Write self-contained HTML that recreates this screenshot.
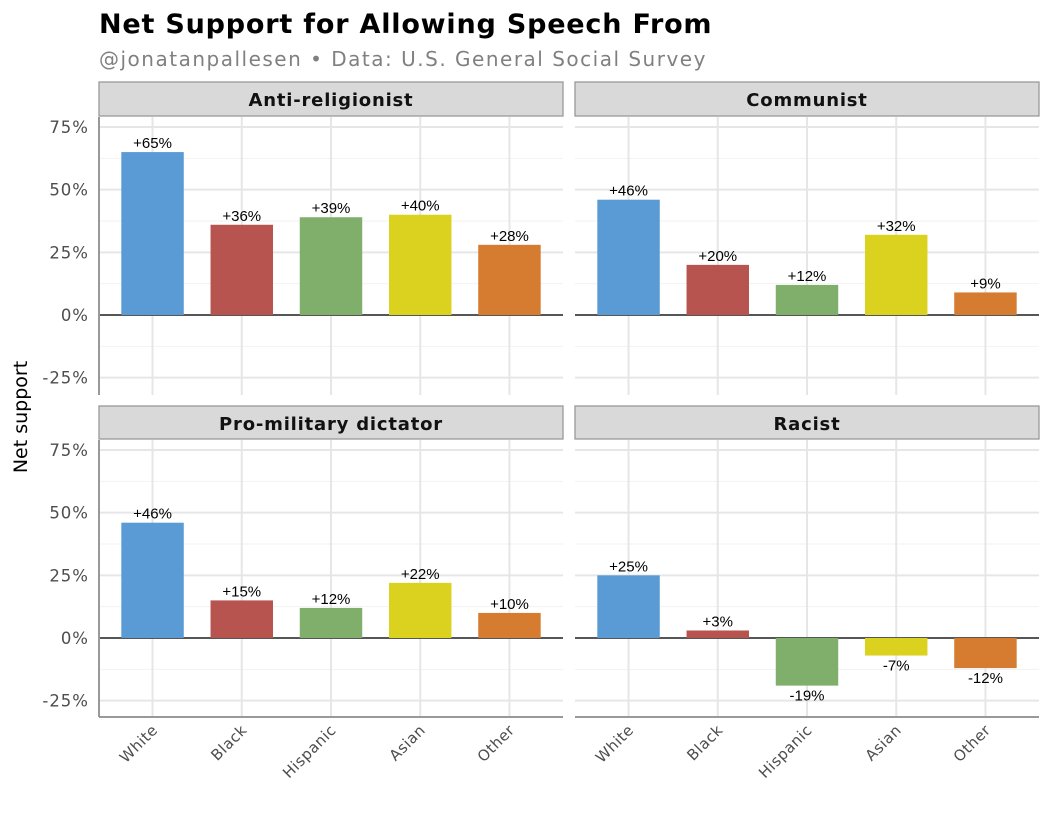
<!DOCTYPE html>
<html><head><meta charset="utf-8"><style>
body{margin:0;background:#fff;}
svg{display:block;font-family:"DejaVu Sans","Liberation Sans",sans-serif;}
</style></head><body>
<svg id="chart" width="1050" height="825" viewBox="0 0 1050 825" xmlns="http://www.w3.org/2000/svg">
<text x="99" y="33" font-size="27" font-weight="bold" fill="#000" letter-spacing="0.8">Net Support for Allowing Speech From</text>
<text x="99" y="66" font-size="20" fill="#808080" letter-spacing="1.5">@jonatanpallesen • Data: U.S. General Social Survey</text>
<text transform="translate(27,417) rotate(-90)" text-anchor="middle" font-size="19" fill="#000">Net support</text>
<g id="panels"></g>
</svg>
<script>
const categories = ["White","Black","Hispanic","Asian","Other"];
const panelTitles = ["Anti-religionist","Communist","Pro-military dictator","Racist"];
const antiReligionist = [65,36,39,40,28];
const communist = [46,20,12,32,9];
const proMilitary = [46,15,12,22,10];
const racist = [25,3,-19,-7,-12];
const yTicks = [75,50,25,0,-25];
const yTickLabels = ["75%","50%","25%","0%","-25%"];
const colors = ["#5b9bd5","#b85450","#7faf6a","#dbd21f","#d67c30"];

const series = [antiReligionist, communist, proMilitary, racist];
const NS = "http://www.w3.org/2000/svg";
const g = document.getElementById("panels");
const panels = [
  {x0:99,x1:563,y0:117,y1:395,sy:82},
  {x0:575,x1:1039,y0:117,y1:395,sy:82},
  {x0:99,x1:563,y0:440,y1:717,sy:406},
  {x0:575,x1:1039,y0:440,y1:717,sy:406}
];
function mk(tag, attrs){const e=document.createElementNS(NS,tag);for(const k in attrs)e.setAttribute(k,attrs[k]);g.appendChild(e);return e;}
panels.forEach((p,pi)=>{
  const zeroY = p.y0 + 198;
  const yScale = v => zeroY - v*(188/75);
  const band = (p.x1-p.x0)/5.2;
  const xScale = i => p.x0 + band*(i+0.6);
  const strip = mk("rect",{x:p.x0,y:p.sy,width:p.x1-p.x0,height:p.y0-p.sy-1,fill:"#d9d9d9",stroke:"#999","stroke-width":1.3});
  
  
  const st = mk("text",{x:(p.x0+p.x1)/2,y:p.sy+24,"text-anchor":"middle","font-size":18,"font-weight":"bold",fill:"#111","letter-spacing":"0.8"});
  st.textContent = panelTitles[pi];
  
  
  [62.5,37.5,12.5,-12.5].forEach(v=>{const l=mk("line",{x1:p.x0,x2:p.x1,y1:yScale(v),y2:yScale(v),stroke:"#f2f2f2","stroke-width":1});});
  yTicks.forEach((v,i)=>{
    const l=mk("line",{x1:p.x0,x2:p.x1,y1:yScale(v),y2:yScale(v),stroke:"#e6e6e6","stroke-width":2});
    
    
    if(pi%2===0){
      const t=mk("text",{x:p.x0-10,y:yScale(v)+6,"text-anchor":"end","font-size":16.5,fill:"#4d4d4d","letter-spacing":"1"});
      t.textContent=yTickLabels[i];
      
      
    }
  });
  categories.forEach((c,i)=>{
    const l=mk("line",{x1:xScale(i),x2:xScale(i),y1:p.y0,y2:p.y1,stroke:"#e6e6e6","stroke-width":2});
    
    
  });
  const z=mk("line",{x1:p.x0,x2:p.x1,y1:zeroY,y2:zeroY,stroke:"#000","stroke-width":1.3});
  
  
  series[pi].forEach((v,i)=>{
    const w=band*0.7, x=xScale(i)-w/2;
    const y=Math.min(yScale(v),zeroY), h=Math.abs(yScale(v)-zeroY);
    const b=mk("rect",{x:x,y:y,width:w,height:h,fill:colors[i]});
    
    
    const t=mk("text",{x:xScale(i),y:v>=0?yScale(v)-4:yScale(v)+15,"text-anchor":"middle","font-size":15,fill:"#000","font-family":"Liberation Sans, sans-serif"});
    t.textContent=(v>0?"+":"")+v+"%";
    
    
  });
  if(pi%2===0){
    const a=mk("line",{x1:p.x0,x2:p.x0,y1:p.y0,y2:p.y1,stroke:"#999","stroke-width":2});
    
    
  }
  if(pi>=2){
    const a=mk("line",{x1:p.x0,x2:p.x1,y1:p.y1,y2:p.y1,stroke:"#999","stroke-width":2});
    
    
    categories.forEach((c,i)=>{
      const t=mk("text",{transform:`translate(${xScale(i)+6},${p.y1+14}) rotate(-45)`,"text-anchor":"end","font-size":15,fill:"#4d4d4d","letter-spacing":"0.5"});
      t.textContent=c;
      
      
    });
  }
});
</script>
</body></html>
